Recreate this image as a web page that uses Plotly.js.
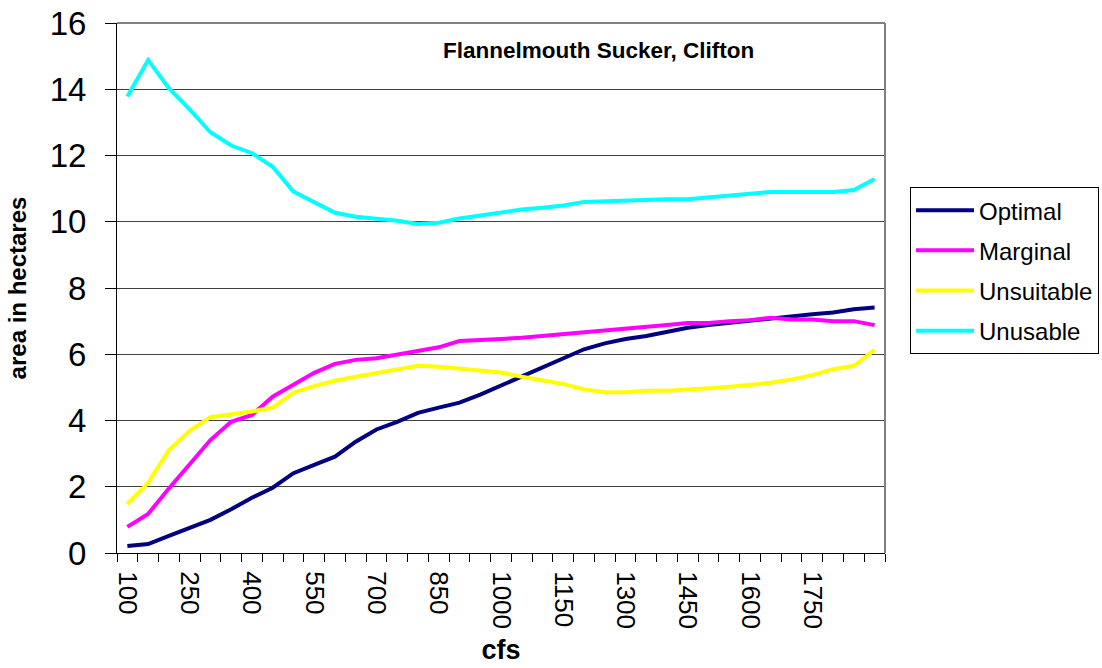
<!DOCTYPE html>
<html>
<head>
<meta charset="utf-8">
<script src="https://cdn.plot.ly/plotly-3.0.1.min.js"></script>
<style>html,body{margin:0;padding:0;background:#fff;}#chart{width:1102px;height:668px;}</style>
</head>
<body>
<div id="chart"></div>
<script>
var cfs = [100,150,200,250,300,350,400,450,500,550,600,650,700,750,800,850,900,950,1000,1050,1100,1150,1200,1250,1300,1350,1400,1450,1500,1550,1600,1650,1700,1750,1800,1850,1900];
var tickLabels = ["100","250","400","550","700","850","1000","1150","1300","1450","1600","1750"];
var tickValues = [100,250,400,550,700,850,1000,1150,1300,1450,1600,1750];

var optimal = [0.21,0.27,0.52,0.75,1.00,1.32,1.67,1.97,2.41,2.66,2.91,3.36,3.73,3.96,4.23,4.39,4.54,4.78,5.05,5.32,5.59,5.85,6.15,6.33,6.46,6.55,6.68,6.80,6.88,6.95,7.03,7.10,7.15,7.21,7.26,7.36,7.41];
var marginal = [0.79,1.18,1.95,2.68,3.41,3.96,4.17,4.72,5.09,5.44,5.71,5.83,5.88,5.98,6.11,6.21,6.40,6.42,6.46,6.50,6.55,6.61,6.67,6.73,6.78,6.83,6.88,6.94,6.94,7.00,7.03,7.10,7.05,7.05,7.00,7.00,6.88];
var unsuitable = [1.48,2.12,3.11,3.69,4.10,4.17,4.27,4.39,4.84,5.04,5.20,5.32,5.42,5.55,5.65,5.62,5.56,5.52,5.45,5.32,5.22,5.10,4.94,4.85,4.85,4.90,4.90,4.92,4.97,5.02,5.07,5.14,5.24,5.37,5.55,5.65,6.13];
var unusable = [13.78,14.88,14.03,13.39,12.70,12.30,12.07,11.66,10.91,10.58,10.27,10.15,10.10,10.03,9.93,9.97,10.10,10.20,10.27,10.37,10.42,10.49,10.60,10.62,10.64,10.68,10.68,10.68,10.74,10.80,10.86,10.90,10.90,10.90,10.90,10.96,11.29];

var FONT = "Liberation Sans, Arial, sans-serif";
function tr(name, y, color, g) {
  return {x: cfs, y: y, name: name, type: 'scatter', mode: 'lines', legendgroup: g,
          line: {color: color, width: 4}, hoverinfo: 'x+y'};
}
var data = [
  tr('Optimal', optimal, '#000080', 'a'),
  tr('Marginal', marginal, '#FF00FF', 'b'),
  tr('Unsuitable', unsuitable, '#FFFF00', 'c'),
  tr('Unusable', unusable, '#00FFFF', 'd')
];
var layout = {
  width: 1102, height: 668,
  margin: {l: 117, r: 217, t: 23, b: 115, pad: 0},
  paper_bgcolor: '#fff', plot_bgcolor: '#fff',
  font: {family: FONT, color: '#000'},
  showlegend: true,
  legend: {xref: 'container', yref: 'container', x: 0.8258, y: 0.72, xanchor: 'left', yanchor: 'top',
           bordercolor: '#000', borderwidth: 1,
           font: {family: FONT, size: 24, color: '#000'}, traceorder: 'grouped', tracegroupgap: 6,
           itemwidth: 58, bgcolor: '#fff'},
  xaxis: {range: [75, 1925], tickvals: tickValues, ticktext: tickLabels, ticks: '', tickangle: 90,
          ticklabelstandoff: 12,
          tickfont: {family: FONT, size: 26, color: '#000'}, showgrid: false, zeroline: false,
          showline: true, linecolor: '#000', linewidth: 1,
          minor: {tick0: 75, dtick: 50, ticks: 'outside', ticklen: 8, tickcolor: '#000', tickwidth: 1, showgrid: false},
          title: {text: '<b>cfs</b>', font: {family: FONT, size: 27, color: '#000'}, standoff: 12}, automargin: false},
  yaxis: {range: [0, 16], dtick: 2, tick0: 0, ticks: 'outside', ticklen: 11, tickcolor: '#000',
          ticklabelstandoff: 12,
          tickfont: {family: FONT, size: 33, color: '#000'}, showgrid: true, gridcolor: '#404040', gridwidth: 1,
          zeroline: false, showline: true, linecolor: '#000', linewidth: 1,
          title: {text: '<b>area in hectares</b>', font: {family: FONT, size: 24, color: '#000'}, standoff: 16}, automargin: false},
  shapes: [
    {type: 'line', xref: 'paper', yref: 'paper', x0: 0, x1: 1, y0: 1, y1: 1, line: {color: '#808080', width: 2}},
    {type: 'line', xref: 'paper', yref: 'paper', x0: 1, x1: 1, y0: 0, y1: 1, line: {color: '#808080', width: 2}}
  ],
  annotations: [
    {text: '<b>Flannelmouth Sucker, Clifton</b>', xref: 'paper', yref: 'paper', x: 0.6276, y: 0.949,
     xanchor: 'center', yanchor: 'middle', showarrow: false, font: {family: FONT, size: 22.5, color: '#000'}}
  ]
};
Plotly.newPlot('chart', data, layout, {displayModeBar: false, staticPlot: true});
</script>
</body>
</html>
